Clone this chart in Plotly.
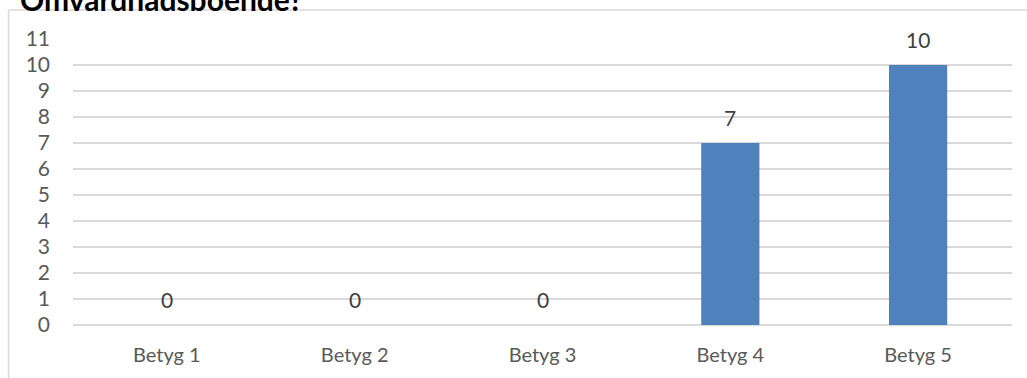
import plotly.graph_objects as go

categories = ["Betyg 1", "Betyg 2", "Betyg 3", "Betyg 4", "Betyg 5"]
values = [0, 0, 0, 7, 10]
y_ticks = list(range(0, 12))
title_text = "Omvårdnadsboende?"

W, H = 1027, 378
ml, mr, mt, mb = 73, 15, 39, 53
pw, ph = W - ml - mr, H - mt - mb

def px_x(x):
    return (x - ml) / pw

def px_y(y):
    return (H - mb - y) / ph

fig = go.Figure()
fig.add_trace(go.Bar(
    x=categories, y=values,
    marker=dict(color="#4f81bd", line=dict(width=0)),
    hoverinfo="x+y",
))

fig.update_layout(
    width=W, height=H,
    margin=dict(l=ml, r=mr, t=mt, b=mb),
    paper_bgcolor="white", plot_bgcolor="white",
    bargap=0.69,
    showlegend=False,
    font=dict(family="Lato", size=20, color="#595959"),
    xaxis=dict(showgrid=False, showline=False, ticks="", ticklabelstandoff=16,
               tickfont=dict(size=20, color="#595959")),
    yaxis=dict(range=[0, 11], tickvals=y_ticks, showgrid=True, gridcolor="#d9d9d9",
               gridwidth=1.5, zeroline=True, zerolinecolor="#d9d9d9", zerolinewidth=1.5,
               ticks="", ticklabelstandoff=22, tickfont=dict(size=21, color="#595959")),
    shapes=[
        dict(type="line", xref="paper", yref="paper", x0=px_x(8.5), x1=px_x(1030),
             y0=px_y(10), y1=px_y(10), line=dict(color="#d9d9d9", width=1.5)),
        dict(type="line", xref="paper", yref="paper", x0=px_x(8.5), x1=px_x(8.5),
             y0=px_y(10), y1=px_y(400), line=dict(color="#d9d9d9", width=1.5)),
    ],
    annotations=[
        dict(text="<b>" + title_text + "</b>", xref="paper", yref="paper",
             x=px_x(18), y=px_y(19), xanchor="left", yanchor="bottom", showarrow=False,
             font=dict(size=30, color="#000000", family="Lato")),
    ] + [
        dict(text=str(v), x=c, y=v, xref="x", yref="y", xanchor="center",
             yanchor="bottom", yshift=11, showarrow=False,
             font=dict(size=21, color="#404040", family="Lato"))
        for c, v in zip(categories, values)
    ],
)

fig.write_html("out.html")
